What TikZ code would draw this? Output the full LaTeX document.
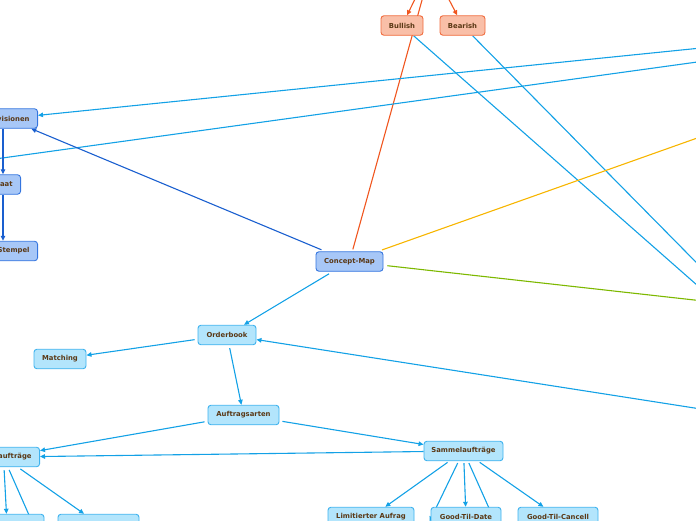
\documentclass[tikz,border=0pt]{standalone}
\usepackage{fontspec}
\setmainfont{DejaVu Sans}
\usetikzlibrary{arrows.meta,backgrounds}
\definecolor{cyanfill}{HTML}{B3E5FC}
\definecolor{cyanline}{HTML}{3DB2EE}
\definecolor{cyanedge}{HTML}{13A1E6}
\definecolor{bluefill}{HTML}{A7C7F7}
\definecolor{blueline}{HTML}{3475DF}
\definecolor{blueedge}{HTML}{1A5FCF}
\definecolor{orfill}{HTML}{F9BFA8}
\definecolor{orline}{HTML}{F06B3D}
\definecolor{oredge}{HTML}{F0561F}
\definecolor{amberedge}{HTML}{F7B500}
\definecolor{greenedge}{HTML}{7DB800}
\definecolor{txt}{HTML}{5A3815}
\begin{document}
\begin{tikzpicture}[x=1pt,y=-1pt,
 box/.style={rounded corners=3pt, line width=0.9pt, minimum height=19.5pt, inner xsep=0pt, inner ysep=0pt, font=\fontsize{6.85}{8}\selectfont\bfseries, text=txt},
 cbox/.style={box, draw=cyanline, fill=cyanfill},
 bbox/.style={box, draw=blueline, fill=bluefill},
 obox/.style={box, draw=orline, fill=orfill},
 edge/.style={line width=1.1pt},
 tip/.style={-{Triangle[length=5pt,width=4.5pt]}},
]
\useasboundingbox (0,0) rectangle (696,520);
\clip (0,0) rectangle (696,520);
% nodes
\node[obox, minimum width=42pt] (Bull) at (402,25.5) {Bullish};
\node[obox, minimum width=45pt] (Bear) at (462.5,25.5) {Bearish};
\node[bbox, minimum width=67pt] (CM) at (349.5,261.5) {Concept-Map};
\node[bbox, inner xsep=8pt, anchor=east] (Prov) at (38,118.5) {Provisionen};
\node[bbox, inner xsep=8pt, anchor=east] (Staat) at (21,184.5) {Staat};
\node[bbox, inner xsep=8pt, anchor=east] (Stempel) at (38,251) {Stempel};
\node[cbox, minimum width=58pt] (OB) at (227,335) {Orderbook};
\node[cbox, minimum width=52pt] (Match) at (60,359) {Matching};
\node[cbox, minimum width=71pt] (AA) at (243.5,415) {Auftragsarten};
\node[cbox, inner xsep=8pt, anchor=east] (Einzel) at (40,457) {Einzelaufträge};
\node[cbox, minimum width=79pt] (Sammel) at (463.5,451) {Sammelaufträge};
\node[cbox, minimum width=86pt] (Limit) at (371,517) {Limitierter Aufrag};
\node[cbox, minimum width=70pt] (GTD) at (466,517) {Good-Til-Date};
\node[cbox, minimum width=80pt] (GTC) at (558,517) {Good-Til-Cancell};
\node[cbox, minimum width=74pt] (BLa) at (7,524) {};
\node[cbox, minimum width=81pt] (BLb) at (98.5,524) {};
% off-picture ends
\coordinate (T1) at (419.5,-10);
\coordinate (T2) at (424.8,-10);
\coordinate (T3) at (444,-10);
\coordinate (R1) at (706,47.5);
\coordinate (R2) at (706,60.8);
\coordinate (L1) at (-10,159.7);
\coordinate (R5) at (706,293);
\coordinate (R6) at (706,272.3);
\coordinate (R7) at (706,134.9);
\coordinate (R8) at (706,301.3);
\coordinate (R4) at (706,409.8);
\coordinate (S2) at (429.5,521.5);
\coordinate (S4) at (497,526);
\coordinate (E3) at (40,540);
\coordinate (V) at (3,0);
% connectors
\begin{scope}[on background layer]
\draw[edge, oredge, shorten >=2pt] (T2) -- (CM);
\draw[edge, oredge, tip] (T1) -- (Bull);
\draw[edge, oredge, tip] (T3) -- (Bear);
\draw[edge, cyanedge] (Bull) -- (R5);
\draw[edge, cyanedge] (Bear) -- (R6);
\draw[edge, cyanedge, tip] (R1) -- (Prov);
\draw[edge, cyanedge] (R2) -- (L1);
\draw[edge, blueedge, tip, shorten <=4pt] (CM) -- (Prov);
\draw[edge, blueedge, tip] (Prov.south -| V) -- (Staat.north -| V);
\draw[edge, blueedge, tip] (Staat.south -| V) -- (Stempel.north -| V);
\draw[edge, amberedge, shorten <=4pt] (CM) -- (R7);
\draw[edge, greenedge, shorten <=4pt] (CM) -- (R8);
\draw[edge, cyanedge, tip, shorten <=4pt] (CM) -- (OB);
\draw[edge, cyanedge, tip, shorten <=3pt] (OB) -- (Match);
\draw[edge, cyanedge, tip, shorten <=3pt] (OB) -- (AA);
\draw[edge, cyanedge, tip] (R4) -- (OB);
\draw[edge, cyanedge, tip, shorten <=3pt] (AA) -- (Sammel);
\draw[edge, cyanedge, tip, shorten <=3pt] (AA) -- (Einzel);
\draw[edge, cyanedge, tip] (Sammel) -- (Einzel);
\draw[edge, cyanedge, tip, shorten <=2pt] (Sammel) -- (Limit);
\draw[edge, cyanedge, tip, shorten <=2pt] (Sammel) -- (S2);
\draw[edge, cyanedge, tip, shorten <=2pt] (Sammel) -- (GTD);
\draw[edge, cyanedge, shorten <=2pt] (Sammel) -- (S4);
\draw[edge, cyanedge, tip, shorten <=2pt] (Sammel) -- (GTC);
\draw[edge, cyanedge, tip, shorten <=3pt] (Einzel) -- (BLa);
\draw[edge, cyanedge, shorten <=3pt] (Einzel) -- (E3);
\draw[edge, cyanedge, tip, shorten <=3pt] (Einzel) -- (BLb);
\end{scope}
\end{tikzpicture}
\end{document}
